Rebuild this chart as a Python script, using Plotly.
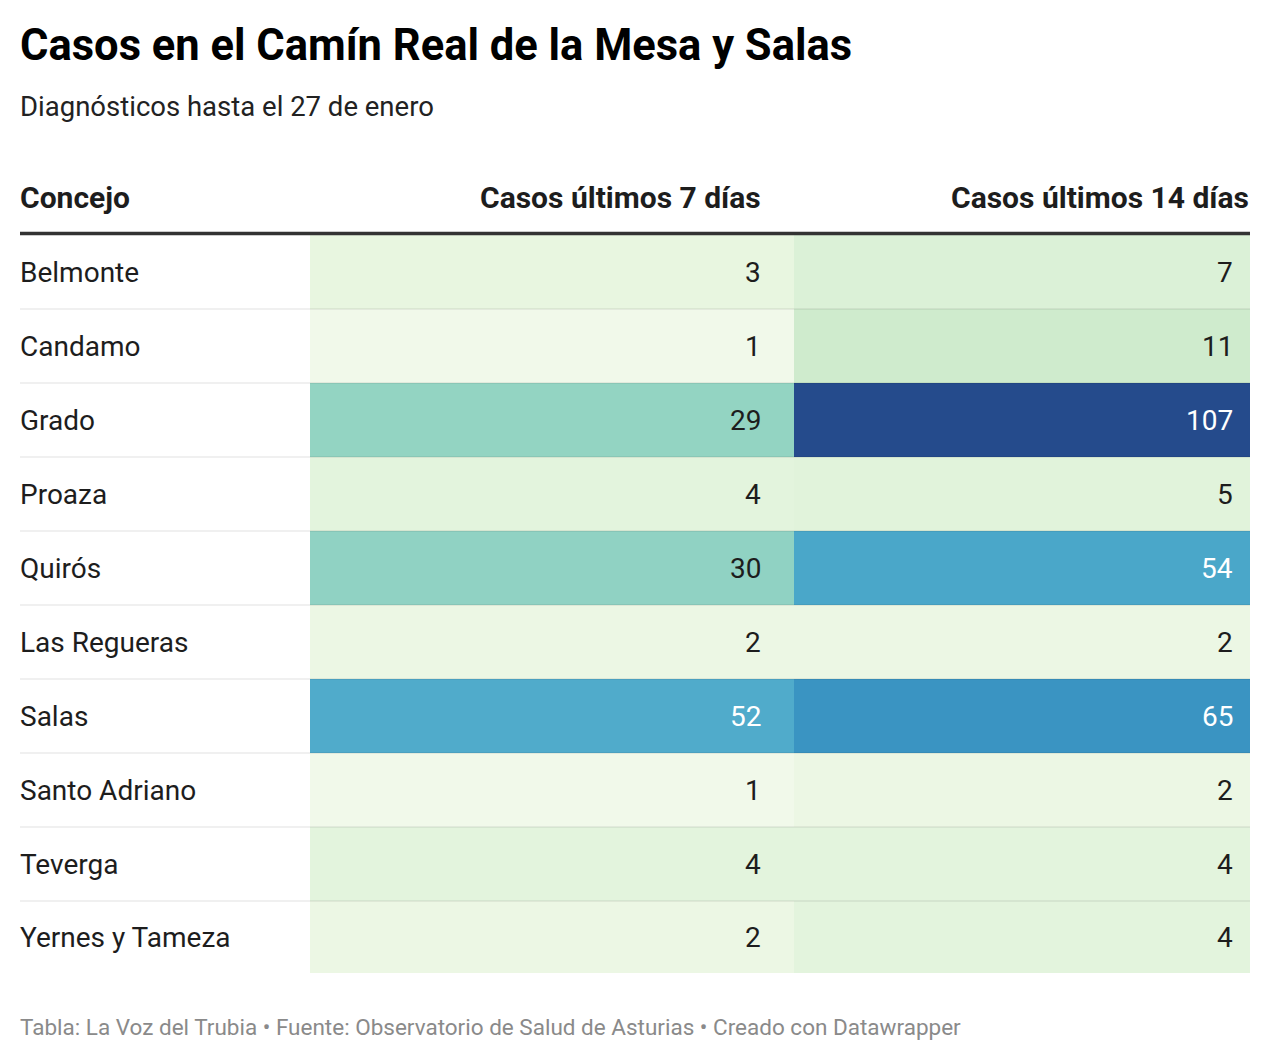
import plotly.graph_objects as go

# ---- data ----
concejos = ["Belmonte", "Candamo", "Grado", "Proaza", "Quirós", "Las Regueras",
            "Salas", "Santo Adriano", "Teverga", "Yernes y Tameza"]
casos_7 = [3, 1, 29, 4, 30, 2, 52, 1, 4, 2]
casos_14 = [7, 11, 107, 5, 54, 2, 65, 2, 4, 4]
col_headers = ["Concejo", "Casos últimos 7 días", "Casos últimos 14 días"]
title = "Casos en el Camín Real de la Mesa y Salas"
subtitle = "Diagnósticos hasta el 27 de enero"
footer = "Tabla: La Voz del Trubia • Fuente: Observatorio de Salud de Asturias • Creado con Datawrapper"

# ---- colour scale (value -> colour) ----
scale_vals = [1, 2, 3, 4, 5, 7, 11, 29, 30, 52, 54, 65, 107]
scale_cols = ["#f1f9ea", "#ecf7e4", "#e8f6e0", "#e3f4dd", "#e1f3db", "#dbf1d7",
              "#cfebcd", "#93d4c2", "#90d2c3", "#50abcb", "#4aa7c9", "#3a94c2", "#254b8c"]
zmin, zmax = min(scale_vals), max(scale_vals)
colorscale = [[(v - zmin) / (zmax - zmin), c] for v, c in zip(scale_vals, scale_cols)]

# ---- layout constants (pixels, page coordinates) ----
W, H = 1270, 1060
OFF = 8  # default page body margin
LEFT = 18
RIGHT = 1250
col_edges = [310, 794, RIGHT]
num_right = [763, 1235]
head_right = [763, 1251]
head_y = 197
table_top = 235
row_h = 74
n = len(concejos)
row_edges = [table_top + i * row_h for i in range(n)] + [table_top + (n - 1) * row_h + 72]
row_centers = [(row_edges[i] + row_edges[i + 1]) / 2 for i in range(n)]

FONT = "Roboto"
TXT = "#1d1d1d"

fig = go.Figure()
z = [[a, b] for a, b in zip(casos_7, casos_14)]
fig.add_trace(go.Heatmap(
    x=col_edges, y=row_edges, z=z, colorscale=colorscale, zmin=zmin, zmax=zmax,
    showscale=False, hoverinfo="skip"))

ann = []
ann.append(dict(x=LEFT, y=45, text=f"<b>{title}</b>", xanchor="left", yanchor="middle",
                font=dict(family=FONT, size=43.5, color="#000000")))
ann.append(dict(x=LEFT, y=106, text=subtitle, xanchor="left", yanchor="middle",
                font=dict(family=FONT, size=27.5, color="#222222")))
ann.append(dict(x=LEFT, y=head_y, text=f"<b>{col_headers[0]}</b>", xanchor="left", yanchor="middle",
                font=dict(family=FONT, size=30, color=TXT)))
ann.append(dict(x=head_right[0], y=head_y, text=f"<b>{col_headers[1]}</b>", xanchor="right", yanchor="middle",
                font=dict(family=FONT, size=30, color=TXT)))
ann.append(dict(x=head_right[1], y=head_y, text=f"<b>{col_headers[2]}</b>", xanchor="right", yanchor="middle",
                font=dict(family=FONT, size=30, color=TXT)))
for i, name in enumerate(concejos):
    yc = row_centers[i]
    ann.append(dict(x=LEFT, y=yc, text=name, xanchor="left", yanchor="middle",
                    font=dict(family=FONT, size=28, color=TXT)))
    for j, v in enumerate((casos_7[i], casos_14[i])):
        ann.append(dict(x=num_right[j], y=yc, text=str(v), xanchor="right", yanchor="middle",
                        font=dict(family=FONT, size=28, color="#ffffff" if v > 40 else TXT)))
ann.append(dict(x=LEFT, y=1027, text=footer, xanchor="left", yanchor="middle",
                font=dict(family=FONT, size=22.5, color="#8a8a8a")))
for a in ann:
    a.update(xref="x", yref="y", showarrow=False)

shapes = [dict(type="line", x0=20, x1=RIGHT, y0=table_top - 1.5, y1=table_top - 1.5,
               xref="x", yref="y", line=dict(color="#333333", width=3.5))]
for i in range(1, n):
    shapes.append(dict(type="line", x0=20, x1=RIGHT, y0=row_edges[i], y1=row_edges[i],
                       xref="x", yref="y", line=dict(color="rgba(0,0,0,0.08)", width=1.5)))

fig.update_layout(
    width=W, height=H, margin=dict(l=0, r=0, t=0, b=0),
    paper_bgcolor="white", plot_bgcolor="white",
    xaxis=dict(range=[OFF, W + OFF], visible=False, fixedrange=True),
    yaxis=dict(range=[H + OFF, OFF], visible=False, fixedrange=True),
    annotations=ann, shapes=shapes, showlegend=False,
)
fig.write_html("out.html")
